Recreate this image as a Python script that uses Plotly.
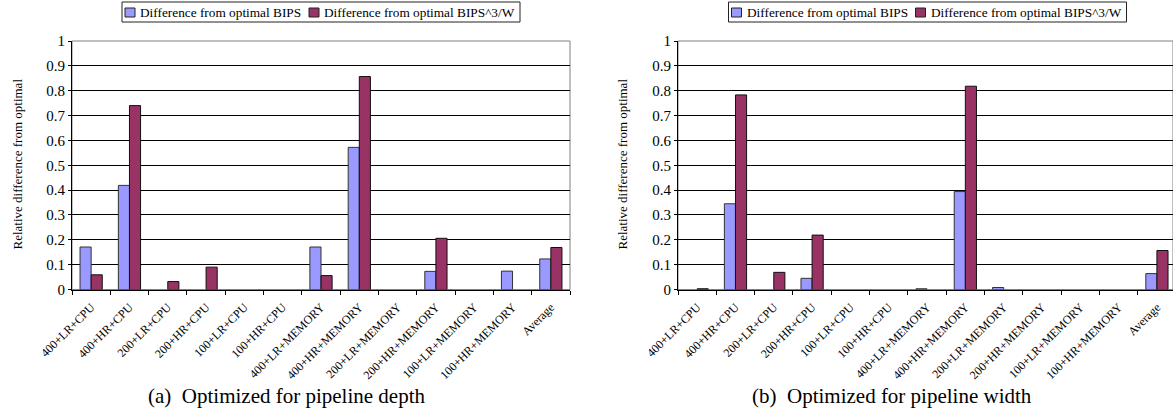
import plotly.graph_objects as go

categories = ["400+LR+CPU", "400+HR+CPU", "200+LR+CPU", "200+HR+CPU", "100+LR+CPU",
              "100+HR+CPU", "400+LR+MEMORY", "400+HR+MEMORY", "200+LR+MEMORY",
              "200+HR+MEMORY", "100+LR+MEMORY", "100+HR+MEMORY", "Average"]

depth_bips = [0.171, 0.419, 0, 0, 0, 0, 0.171, 0.572, 0, 0.073, 0, 0.074, 0.123]
depth_bips3w = [0.059, 0.740, 0.032, 0.090, 0, 0, 0.056, 0.857, 0, 0.206, 0, 0, 0.169]

width_bips = [0, 0.345, 0, 0.045, 0, 0, 0.003, 0.394, 0.008, 0, 0, 0, 0.064]
width_bips3w = [0.003, 0.783, 0.069, 0.219, 0, 0, 0, 0.818, 0, 0, 0, 0, 0.157]

series_names = ["Difference from optimal BIPS", "Difference from optimal BIPS^3/W"]
y_title = "Relative difference from optimal"
captions = ["(a)  Optimized for pipeline depth", "(b)  Optimized for pipeline width"]

FONT = "Liberation Serif"
BLUE = "#9999FF"
RED = "#993366"
COLORS = [BLUE, RED]
EDGES = ["#333333", "#111111"]
BW = 0.29
W, H = 1173, 408


def nz(vals):
    # zero-height bars are not drawn in the original
    return [v if v else None for v in vals]


fig = go.Figure()


def add_pair(bips, b3w, xa, ya):
    for i, vals in enumerate([bips, b3w]):
        fig.add_trace(go.Bar(x=categories, y=nz(vals), name=series_names[i],
                             marker_color=COLORS[i],
                             marker_line=dict(color=EDGES[i], width=1),
                             width=BW, offset=-BW if i == 0 else 0,
                             xaxis=xa, yaxis=ya, showlegend=False))


add_pair(depth_bips, depth_bips3w, "x", "y")
add_pair(width_bips, width_bips3w, "x2", "y2")

ydom = [1 - 289.5 / H, 1 - 41 / H]

xcommon = dict(type="category", showline=True, linecolor="black", linewidth=1,
               ticks="outside", tickson="boundaries", ticklen=4, tickcolor="black",
               tickangle=-45, tickfont=dict(family=FONT, size=12, color="black"),
               ticklabelstandoff=5,
               showgrid=False, zeroline=False, automargin=False)
ycommon = dict(range=[0, 1], dtick=0.1, showline=True, linecolor="black", linewidth=1,
               ticks="outside", ticklen=3, tickcolor="black",
               tickfont=dict(family=FONT, size=15, color="black"),
               showgrid=True, gridcolor="black", gridwidth=1, zeroline=False,
               automargin=False)

fig.update_layout(
    width=W, height=H,
    margin=dict(l=0, r=0, t=0, b=0),
    paper_bgcolor="white", plot_bgcolor="white",
    barmode="overlay",
    showlegend=False,
    xaxis=dict(domain=[72 / W, 570 / W], anchor="y", range=[-0.5, 12.5], **xcommon),
    yaxis=dict(domain=ydom, anchor="x", **ycommon),
    xaxis2=dict(domain=[678 / W, 1.0], anchor="y2", range=[-0.5, 12.42], **xcommon),
    yaxis2=dict(domain=ydom, anchor="x2", **ycommon),
)

# plot-area frames
for xr, yr in [("x domain", "y domain"), ("x2 domain", "y2 domain")]:
    fig.add_shape(type="rect", xref=xr, yref=yr, x0=0, x1=1, y0=0, y1=1,
                  line=dict(color="#808080", width=1), layer="below")


def px_x(v):
    return v / W


def px_y(v):
    return 1 - v / H


# legends (boxed, one above each chart)
for dx in [0, 606.5]:
    fig.add_shape(type="rect", xref="paper", yref="paper",
                  x0=px_x(122 + dx), x1=px_x(520 + dx), y0=px_y(22), y1=px_y(2),
                  line=dict(color="#222222", width=1), fillcolor="white")
    for i, (sx, tx) in enumerate([(125, 138), (309, 322)]):
        fig.add_shape(type="rect", xref="paper", yref="paper",
                      x0=px_x(sx + dx), x1=px_x(sx + 10 + dx), y0=px_y(17), y1=px_y(8),
                      line=dict(color="#222222", width=1), fillcolor=COLORS[i])
        fig.add_annotation(text=series_names[i], xref="paper", yref="paper",
                           x=px_x(tx + dx), y=px_y(12.5), xanchor="left", yanchor="middle",
                           showarrow=False, font=dict(family=FONT, size=13.3, color="black"))

for xc in [17, 622]:
    fig.add_annotation(text=y_title, xref="paper", yref="paper", x=px_x(xc), y=px_y(164.5),
                       textangle=-90, showarrow=False, xanchor="center", yanchor="middle",
                       font=dict(family=FONT, size=13, color="black"))

for xc, cap in zip([286, 892], captions):
    fig.add_annotation(text=cap.replace("  ", "&nbsp; "), xref="paper", yref="paper",
                       x=px_x(xc), y=px_y(396), showarrow=False, xanchor="center",
                       yanchor="middle", font=dict(family=FONT, size=21, color="black"))

fig.write_html("out.html")
